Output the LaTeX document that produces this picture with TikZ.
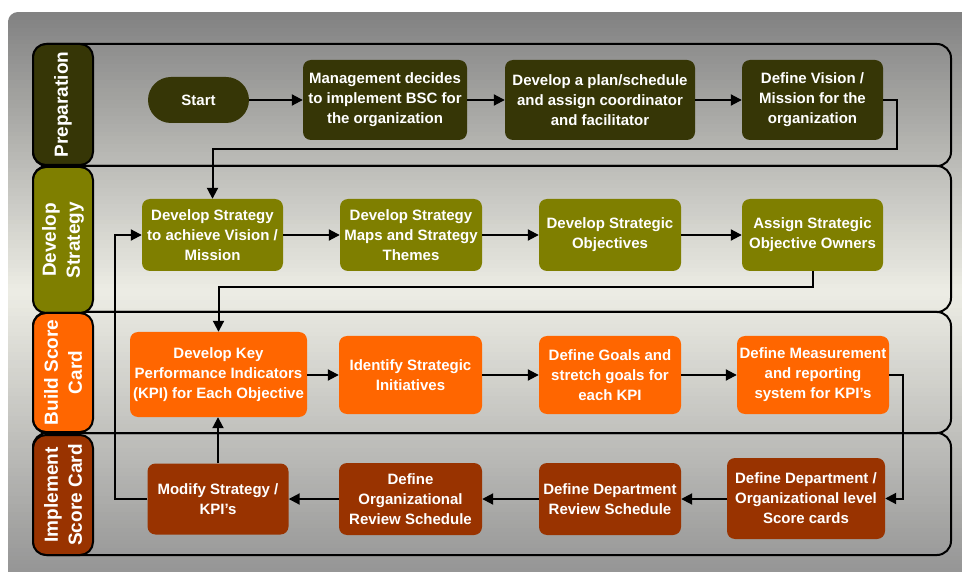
\documentclass[tikz,border=0pt]{standalone}
\usepackage{fontspec}
\setmainfont{Liberation Sans}
\usetikzlibrary{arrows.meta}
\definecolor{prepc}{HTML}{363606}
\definecolor{devc}{HTML}{7F7F00}
\definecolor{buildc}{HTML}{FF6600}
\definecolor{implc}{HTML}{993300}
\definecolor{bgtop}{HTML}{828282}
\definecolor{bgmid}{HTML}{ECECE4}
\definecolor{bgbot}{HTML}{969696}
\tikzset{
  box/.style={rounded corners=8pt, text=white, align=center, inner sep=0pt,
    font=\bfseries\fontsize{15}{20}\selectfont},
  lanelab/.style={draw=black, line width=2pt, rounded corners=13pt, rotate=90,
    text=white, align=center, inner sep=0pt, minimum height=60pt,
    font=\bfseries\fontsize{19}{24}\selectfont},
  lane/.style={draw=black, line width=2pt, rounded corners=14pt},
  arr/.style={draw=black, line width=2pt, -{Triangle[length=11pt,width=11pt]}},
}
\begin{document}
\begin{tikzpicture}[x=1pt,y=-1pt]
\useasboundingbox (0,0) rectangle (962,572);
\begin{scope}
\clip[rounded corners=10pt] (8,12) rectangle (990,600);
\foreach \i in {0,...,69} {
  \pgfmathsetmacro\ya{12+4*\i}
  \pgfmathtruncatemacro\p{round(100*\i/69)}
  \fill[bgmid!\p!bgtop] (0,\ya) rectangle (962,\ya+4.6);
}
\foreach \i in {0,...,69} {
  \pgfmathsetmacro\ya{292+4*\i}
  \pgfmathtruncatemacro\p{round(100*(69-\i)/69)}
  \fill[bgmid!\p!bgbot] (0,\ya) rectangle (962,\ya+4.6);
}
\end{scope}
% lanes
\draw[lane] (33,44) rectangle (951,166);
\draw[lane] (33,166) rectangle (951,312);
\draw[lane] (33,312) rectangle (951,433);
\draw[lane] (33,433) rectangle (951,555);
% lane labels
\node[lanelab, fill=prepc, minimum width=121pt] (lprep) at (63,104.5) {Preparation};
\node[lanelab, fill=devc, minimum width=146pt] (ldev) at (63,240) {Develop\\Strategy};
\node[lanelab, fill=buildc, minimum width=119pt] (lbuild) at (63,372.5) {Build Score\\Card};
\node[lanelab, fill=implc, minimum width=120pt] (limpl) at (63,495) {Implement\\Score Card};
% preparation row
\node[box, fill=prepc, rounded corners=23pt, minimum width=101pt, minimum height=46pt] (start) at (198.5,100) {Start};
\node[box, fill=prepc, minimum width=164pt, minimum height=80pt] (mgmt) at (385,100) {Management decides\\to implement BSC for\\the organization};
\node[box, fill=prepc, minimum width=190pt, minimum height=80pt] (plan) at (600,100) {Develop a plan/schedule\\and assign coordinator\\and facilitator};
\node[box, fill=prepc, minimum width=141pt, minimum height=80pt] (vision) at (812.5,100) {Define Vision /\\Mission for the\\organization};
% develop strategy row
\node[box, fill=devc, minimum width=141pt, minimum height=72pt] (ds1) at (212.5,235) {Develop Strategy\\to achieve Vision /\\Mission};
\node[box, fill=devc, minimum width=142pt, minimum height=72pt] (ds2) at (411,235) {Develop Strategy\\Maps and Strategy\\Themes};
\node[box, fill=devc, minimum width=142pt, minimum height=72pt] (ds3) at (610,235) {Develop Strategic\\Objectives};
\node[box, fill=devc, minimum width=141pt, minimum height=72pt] (ds4) at (812.5,235) {Assign Strategic\\Objective Owners};
% build row
\node[box, fill=buildc, minimum width=177pt, minimum height=85pt] (kpi) at (218.5,374.5) {Develop Key\\Performance Indicators\\(KPI) for Each Objective};
\node[box, fill=buildc, minimum width=143pt, minimum height=78pt] (ident) at (410.5,375) {Identify Strategic\\Initiatives};
\node[box, fill=buildc, minimum width=142pt, minimum height=78pt] (goals) at (610,375) {Define Goals and\\stretch goals for\\each KPI};
\node[box, fill=buildc, minimum width=152pt, minimum height=78pt] (meas) at (813,375) {Define Measurement\\and reporting\\system for KPI’s};
% implement row
\node[box, fill=implc, minimum width=158pt, minimum height=81pt] (dept) at (806,498.5) {Define Department /\\Organizational level\\Score cards};
\node[box, fill=implc, minimum width=142pt, minimum height=72pt] (deptrev) at (610,499) {Define Department\\Review Schedule};
\node[box, fill=implc, minimum width=143pt, minimum height=72pt] (orgrev) at (410.5,499) {Define\\Organizational\\Review Schedule};
\node[box, fill=implc, minimum width=141pt, minimum height=71pt] (modify) at (218,499) {Modify Strategy /\\KPI’s};
% bend points
\coordinate (c1) at (897,149);
\coordinate (c2) at (218.5,287);
\coordinate (c3) at (903,437);
\coordinate (c4) at (115,360);
% connectors
\draw[arr] (start) -- (mgmt);
\draw[arr] (mgmt) -- (plan);
\draw[arr] (plan) -- (vision);
\draw[arr] (vision.east) -| (c1) -| (ds1.north);
\draw[arr] (ds1) -- (ds2);
\draw[arr] (ds2) -- (ds3);
\draw[arr] (ds3) -- (ds4);
\draw[arr] (ds4.south) |- (c2) -- (kpi.north);
\draw[arr] (kpi.east |- ident.west) -- (ident.west);
\draw[arr] (ident) -- (goals);
\draw[arr] (goals) -- (meas);
\draw[arr] (meas.east) -| (c3) |- (dept.east);
\draw[arr] (dept.west |- deptrev.east) -- (deptrev.east);
\draw[arr] (deptrev) -- (orgrev);
\draw[arr] (orgrev) -- (modify);
\draw[arr] (modify.north) -- (modify.north |- kpi.south);
\draw[arr] (modify.west) -| (c4) |- (ds1.west);
\end{tikzpicture}
\end{document}
